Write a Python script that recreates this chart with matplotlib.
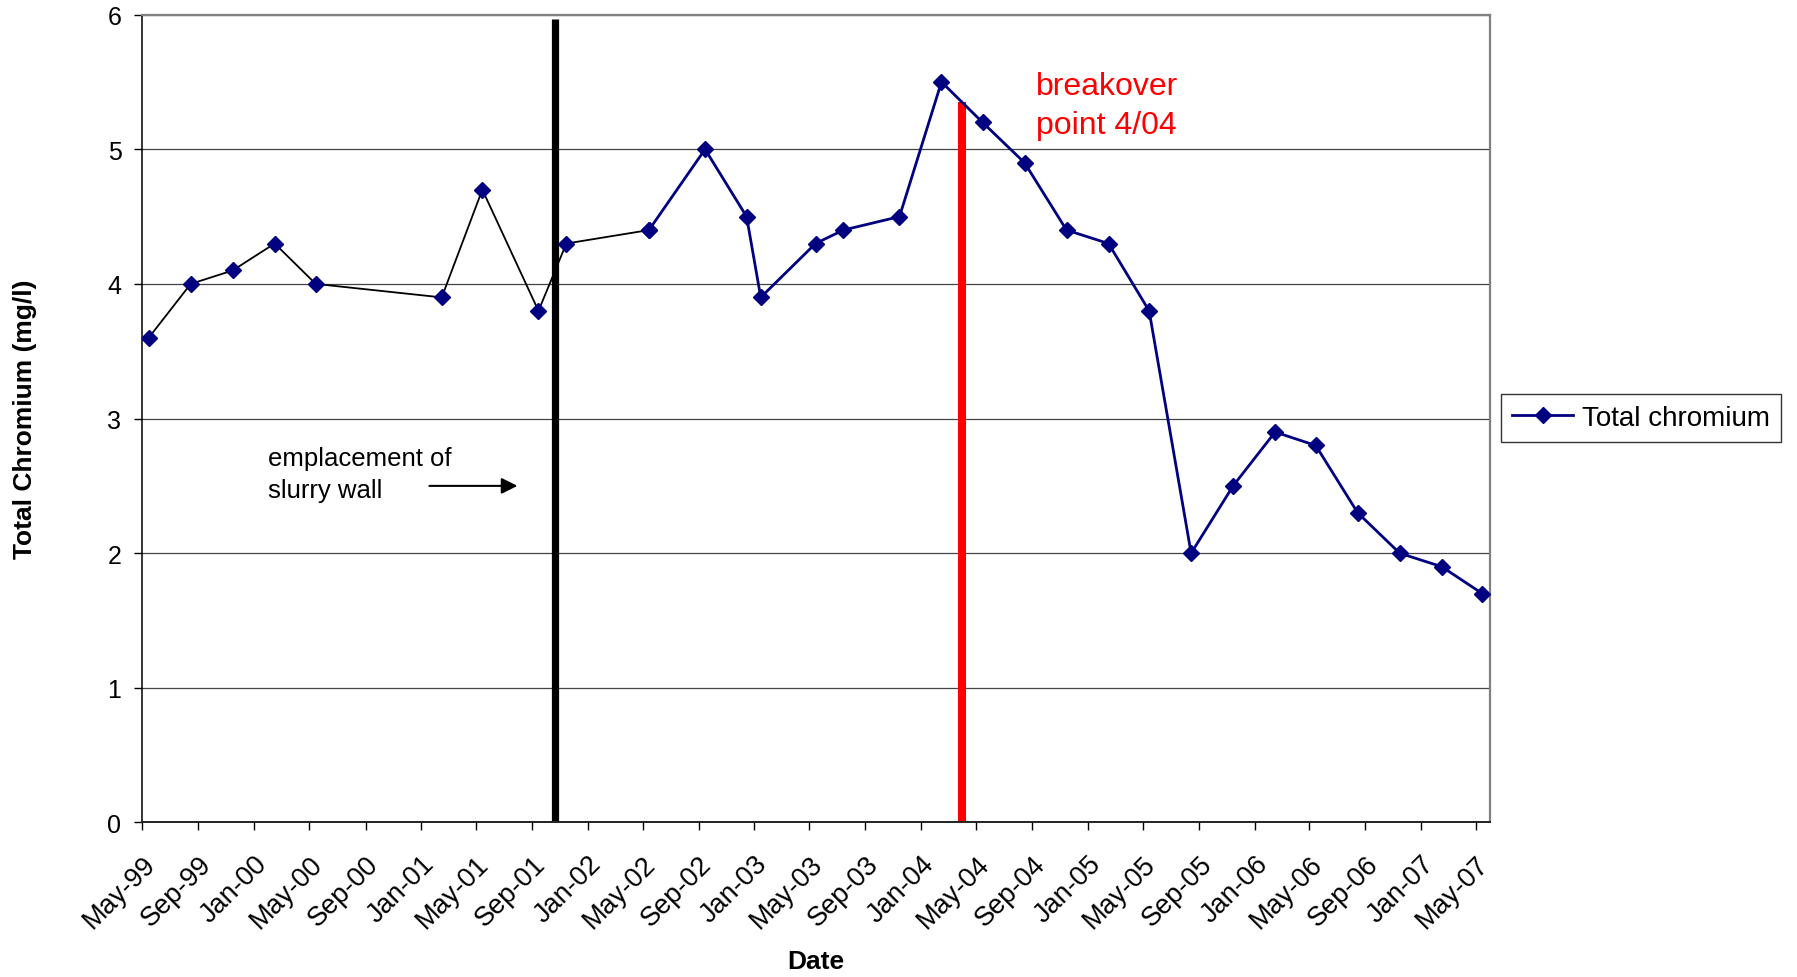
import matplotlib
matplotlib.use('Agg')
import matplotlib.pyplot as plt
import matplotlib.dates as mdates
import numpy as np
from datetime import datetime

plt.rcParams['font.family'] = ['Liberation Sans', 'DejaVu Sans']

# sampling dates and total chromium (mg/l)
dates = ['1999-05-15', '1999-08-15', '1999-11-15', '2000-02-15', '2000-05-15',
         '2001-02-15', '2001-05-15', '2001-09-15', '2001-11-15', '2002-05-15',
         '2002-09-15', '2002-12-15', '2003-01-15', '2003-05-15', '2003-07-15',
         '2003-11-15', '2004-02-15', '2004-05-15', '2004-08-15', '2004-11-15',
         '2005-02-15', '2005-05-15', '2005-08-15', '2005-11-15', '2006-02-15',
         '2006-05-15', '2006-08-15', '2006-11-15', '2007-02-15', '2007-05-15']
chromium = [3.6, 4.0, 4.1, 4.3, 4.0,
            3.9, 4.7, 3.8, 4.3, 4.4,
            5.0, 4.5, 3.9, 4.3, 4.4,
            4.5, 5.5, 5.2, 4.9, 4.4,
            4.3, 3.8, 2.0, 2.5, 2.9,
            2.8, 2.3, 2.0, 1.9, 1.7]
n_black = 10  # first segments drawn black

# marker lines and notes
wall_date = '2001-10-22'
wall_top = 5.97
breakover_date = '2004-04-01'
breakover_top = 5.35
arrow_start = '2001-01-13'
arrow_end = '2001-08-06'
arrow_y = 2.5
wall_text_date = '2000-02-01'
wall_text_y = 2.585
break_text_date = '2004-09-10'
break_text_y = 5.325

d = [datetime.strptime(s, '%Y-%m-%d') for s in dates]
navy = '#000080'

fig = plt.figure(figsize=(17.97, 9.78), dpi=100)
ax = fig.add_axes([0.0792, 0.158, 0.75, 0.826])

ax.vlines(datetime.strptime(wall_date, '%Y-%m-%d'), 0, wall_top, color='black', lw=5.2, zorder=2)
ax.vlines(datetime.strptime(breakover_date, '%Y-%m-%d'), 0, breakover_top, color='#ff0000', lw=5.8, zorder=2)

ax.plot(d[:n_black], chromium[:n_black], color='black', lw=1.3, marker='D', ms=8,
        mfc=navy, mec=navy, zorder=3)
ax.plot(d[n_black - 1:], chromium[n_black - 1:], color=navy, lw=2.0, marker='D', ms=8,
        mfc=navy, mec=navy, zorder=3, label='Total chromium')

ax.annotate('', xy=(datetime.strptime(arrow_end, '%Y-%m-%d'), arrow_y),
            xytext=(datetime.strptime(arrow_start, '%Y-%m-%d'), arrow_y),
            arrowprops=dict(arrowstyle='-|>', color='black', lw=1.5, mutation_scale=24))
ax.text(datetime.strptime(wall_text_date, '%Y-%m-%d'), wall_text_y, 'emplacement of\nslurry wall',
        fontsize=18.5, ha='left', va='center', linespacing=1.42)
ax.text(datetime.strptime(break_text_date, '%Y-%m-%d'), break_text_y, 'breakover\npoint 4/04',
        fontsize=23, color='#ff0000', ha='left', va='center', linespacing=1.38)

ax.set_xlim(datetime(1999, 5, 1), datetime(2007, 6, 1))
ax.set_ylim(0, 6)
ax.set_yticks(np.arange(0, 7, 1))
ax.xaxis.set_major_locator(mdates.MonthLocator(bymonth=[1, 5, 9]))
ax.xaxis.set_major_formatter(mdates.DateFormatter('%b-%y'))
ax.grid(axis='y', color='#444444', lw=0.9)
ax.set_axisbelow(True)

ax.tick_params(axis='both', direction='out', length=6, width=1, color='black')
ax.tick_params(axis='y', pad=9, labelsize=18)
ax.tick_params(axis='x', pad=14, labelsize=19.5)
for lab in ax.get_xticklabels():
    lab.set_rotation(45)
    lab.set_ha('right')
    lab.set_va('top')
    lab.set_rotation_mode('anchor')

ax.spines['left'].set_color('black')
ax.spines['bottom'].set_color('#222222')
ax.spines['left'].set_linewidth(1.1)
ax.spines['bottom'].set_linewidth(1.4)
ax.spines['top'].set_color('#808080')
ax.spines['right'].set_color('#808080')
ax.spines['top'].set_linewidth(1.6)
ax.spines['right'].set_linewidth(1.6)

ax.set_xlabel('Date', fontsize=19, fontweight='bold')
ax.xaxis.set_label_coords(0.5, -0.171)
ax.xaxis.label.set_va('center')
fig.text(0.0139, 0.571, 'Total Chromium (mg/l)', fontsize=19, fontweight='bold',
         rotation=90, ha='center', va='center')

leg = ax.legend(loc='center', bbox_to_anchor=(0.9132, 0.5716), bbox_transform=fig.transFigure,
                fontsize=20, frameon=True, fancybox=False, framealpha=1, edgecolor='#333333',
                handlelength=2.2, borderpad=0.4, handletextpad=0.3)
leg.get_frame().set_linewidth(1.0)

fig.savefig('out.png', dpi=100)
